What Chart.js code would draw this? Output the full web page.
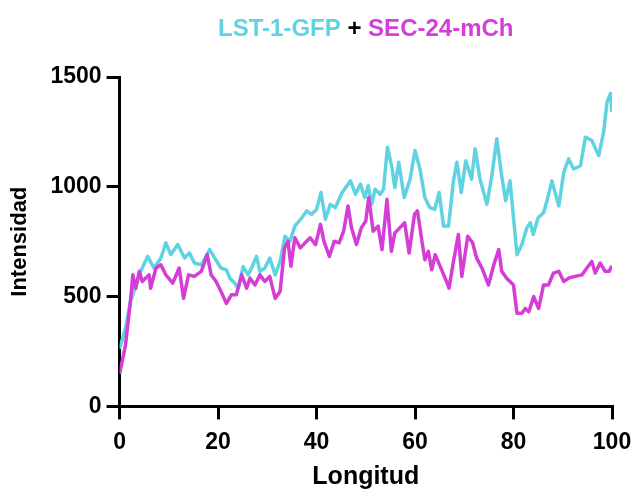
<!DOCTYPE html>
<html>
<head>
<meta charset="utf-8">
<script src="https://cdn.jsdelivr.net/npm/chart.js@4.4.1/dist/chart.umd.min.js"></script>
<style>
  body { margin: 0; background: #fff; }
  #wrap { width: 634px; height: 490px; }
</style>
</head>
<body>
<div id="wrap"><canvas id="perfil"></canvas></div>
<script>
// Perfil de intensidad a lo largo de la longitud
const lstX = [0, 1.2, 2.2, 2.9, 4.3, 5.7, 7, 8.4, 9.4, 10.4, 11.8, 13.2, 14.2, 15.2, 16.6, 18.3, 19.3, 20.6, 21.7, 22.4,
  23.4, 24.1, 25.1, 26.1, 26.8, 27.8, 28.5, 29.5, 30.5, 31.6, 32.6, 33.6, 34.6, 35.6, 37, 38, 39, 40, 40.9, 41.8,
  42.8, 43.8, 45.2, 46.9, 47.9, 48.9, 49.8, 50.5, 51.2, 51.9, 52.9, 53.6, 54.4, 55.3, 55.9, 56.7, 57.8, 59, 60, 61,
  62, 63, 64, 64.9, 65.8, 66.8, 67.8, 68.5, 69.4, 70.3, 71.5, 72.2, 73.2, 74.6, 75.6, 76.6, 77.6, 78.4, 79.3, 80.7,
  81.7, 82.7, 83.4, 84, 85, 86.1, 86.8, 87.8, 89.2, 90.2, 91.2, 92.2, 93.6, 94.6, 95.9, 97.3, 98.3, 99, 99.7, 100];
const lstY = [263, 355, 477, 523, 615, 683, 630, 676, 745, 691, 737, 676, 699, 653, 645, 714, 676, 630, 622, 584,
  561, 538, 637, 599, 630, 683, 615, 630, 676, 599, 660, 775, 752, 821, 859, 890, 875, 897, 974, 852,
  920, 905, 974, 1027, 966, 1012, 951, 1005, 920, 989, 966, 989, 1180, 1089, 997, 1112, 951, 1035, 1165, 1081,
  951, 905, 897, 974, 821, 821, 1027, 1112, 974, 1119, 1035, 1173, 1035, 920, 1050, 1219, 1050, 936, 1027, 691,
  737, 813, 836, 783, 859, 882, 936, 1027, 913, 1066, 1127, 1081, 1096, 1226, 1211, 1142, 1249, 1387, 1425, 1340];

const secX = [0, 1.2, 2.2, 2.7, 3.3, 4, 4.6, 6, 6.3, 7.4, 8.4, 9.4, 10.8, 12.1, 13, 14, 15.2, 16.6, 17.8, 18.6,
  19.6, 20.6, 21.7, 22.7, 23.7, 24.8, 25.8, 26.5, 27.5, 28.5, 29.5, 30.5, 31.6, 32.6, 33.5, 34.2, 34.8, 35.6, 36.7, 37.7,
  38.7, 39.8, 40.8, 41.5, 42.6, 43.6, 44.6, 45.5, 46.4, 47.1, 48.1, 49.1, 50, 50.6, 51.5, 52.5, 53.3, 54.3, 55.2, 55.9,
  56.9, 57.9, 58.8, 59.9, 60.5, 61.4, 62, 62.7, 63.4, 64.1, 65.4, 66.4, 66.9, 67.8, 68.8, 69.5, 70.7, 71.7, 72.5, 73.6,
  74.9, 76, 77, 77.6, 78.6, 80, 80.7, 81.7, 82.4, 83.1, 84.1, 85.1, 86.1, 87.1, 88.1, 89.2, 90.2, 91.2, 92.5, 93.9,
  94.9, 95.9, 96.6, 97.6, 98.6, 99.4, 100];
const secY = [148, 278, 477, 599, 538, 615, 569, 599, 538, 630, 645, 599, 561, 630, 492, 599, 592, 615, 691, 599,
  569, 523, 469, 508, 508, 599, 538, 584, 553, 599, 569, 592, 492, 523, 722, 752, 638, 768, 722, 745,
  768, 737, 829, 752, 683, 752, 745, 798, 913, 813, 737, 813, 844, 951, 798, 821, 714, 943, 706, 790,
  813, 836, 699, 875, 890, 752, 668, 706, 622, 691, 622, 569, 538, 660, 783, 592, 775, 745, 676, 630,
  553, 645, 714, 615, 584, 553, 424, 424, 446, 431, 500, 446, 553, 553, 607, 615, 569, 584, 592, 599,
  630, 660, 607, 653, 615, 615, 640];

const xTicks = [0, 20, 40, 60, 80, 100];
const yTicks = [0, 500, 1000, 1500];

const cian = '#5fd3e2';
const magenta = '#d43ed6';

// juntamos x e y en puntos
const puntos = (xs, ys) => xs.map((x, i) => ({ x: x, y: ys[i] }));

// titulo con dos colores y el "+" en negro
const tituloColores = {
  id: 'tituloColores',
  afterDraw(chart) {
    const c = chart.ctx;
    const partes = [['LST-1-GFP', cian], [' + ', '#000'], ['SEC-24-mCh', magenta]];
    c.save();
    c.font = 'bold 24px "Liberation Sans", Arial, sans-serif';
    c.textBaseline = 'middle';
    let total = 0;
    partes.forEach(p => total += c.measureText(p[0]).width);
    let x = (chart.chartArea.left + chart.chartArea.right) / 2 - total / 2;
    partes.forEach(p => {
      c.fillStyle = p[1];
      c.fillText(p[0], x, 29);
      x += c.measureText(p[0]).width;
    });
    c.restore();
  }
};

const fuente = { family: '"Liberation Sans", Arial, sans-serif', weight: 'bold' };

new Chart(document.getElementById('perfil'), {
  type: 'line',
  data: {
    datasets: [
      { label: 'LST-1-GFP', data: puntos(lstX, lstY), borderColor: cian, borderWidth: 3.5, order: 2 },
      { label: 'SEC-24-mCh', data: puntos(secX, secY), borderColor: magenta, borderWidth: 3.5, order: 1 }
    ]
  },
  options: {
    responsive: true,
    maintainAspectRatio: false,
    animation: false,
    layout: { padding: { top: 77, right: 0, bottom: 0, left: 7 } },
    elements: { point: { radius: 0 }, line: { tension: 0, borderJoinStyle: 'round' } },
    plugins: { legend: { display: false }, tooltip: { enabled: false } },
    scales: {
      x: {
        type: 'linear', min: 0, max: 100,
        afterBuildTicks: s => { s.ticks = xTicks.map(v => ({ value: v })); },
        // el "100" sobresale un poco por la derecha
        afterFit: s => { s.paddingRight = 22; },
        grid: { drawOnChartArea: false, color: '#000', lineWidth: 3, tickLength: 13 },
        border: { color: '#000', width: 3 },
        ticks: { color: '#000', font: { ...fuente, size: 23 }, padding: 9, maxRotation: 0, callback: v => String(v) },
        title: { display: true, text: 'Longitud', color: '#000', font: { ...fuente, size: 25, lineHeight: 1 }, padding: { top: 0, bottom: 0 } }
      },
      y: {
        type: 'linear', min: 0, max: 1500,
        afterBuildTicks: s => { s.ticks = yTicks.map(v => ({ value: v })); },
        grid: { drawOnChartArea: false, color: '#000', lineWidth: 3, tickLength: 13 },
        border: { color: '#000', width: 3 },
        ticks: { color: '#000', font: { ...fuente, size: 23 }, padding: 5, callback: v => String(v) },
        title: { display: true, text: 'Intensidad', color: '#000', font: { ...fuente, size: 22 }, padding: { top: 0, bottom: 12 } }
      }
    }
  },
  plugins: [tituloColores]
});
</script>
</body>
</html>
